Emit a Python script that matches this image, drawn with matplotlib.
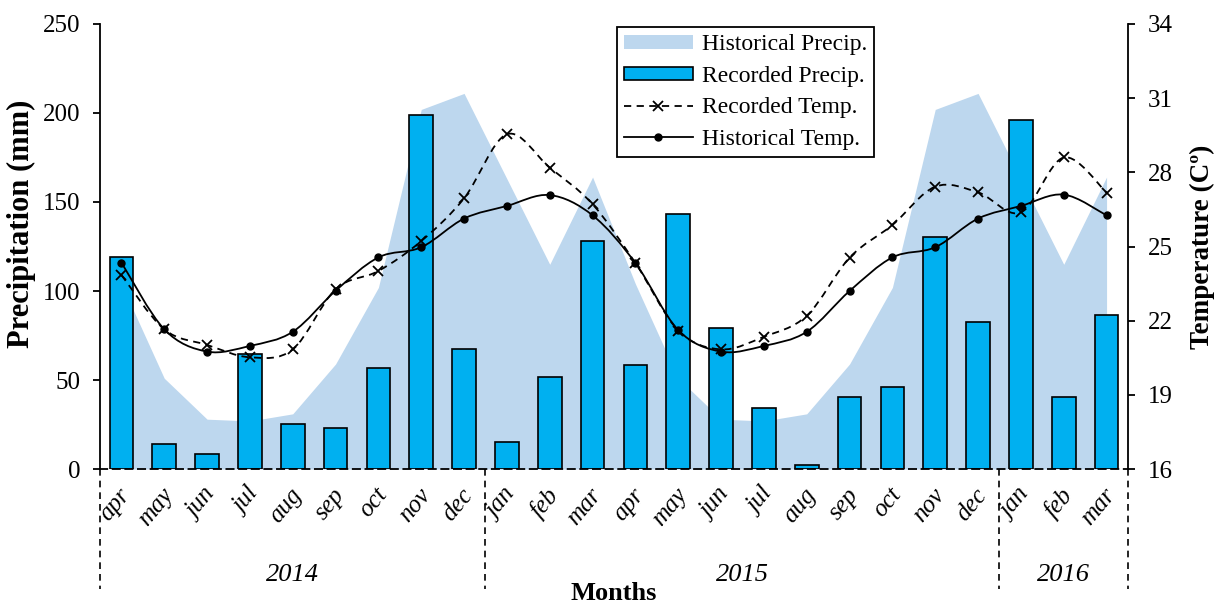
import matplotlib
matplotlib.use('Agg')
import matplotlib.pyplot as plt
import matplotlib.transforms as mtransforms
from matplotlib.path import Path
from matplotlib.patches import PathPatch, Patch
from matplotlib.lines import Line2D
import numpy as np

months = ['apr', 'may', 'jun', 'jul', 'aug', 'sep', 'oct', 'nov', 'dec', 'jan', 'feb', 'mar',
          'apr', 'may', 'jun', 'jul', 'aug', 'sep', 'oct', 'nov', 'dec', 'jan', 'feb', 'mar']
years = ['2014', '2015', '2016']
year_bounds = [-0.5, 8.5, 20.5, 23.5]

hist_precip = [104, 51, 28, 27, 31, 59, 102, 202, 211, 163, 115, 164,
               104, 51, 28, 27, 31, 59, 102, 202, 211, 163, 115, 164]
rec_precip = [119, 14, 8.4, 64.6, 25.3, 23, 56.7, 198.9, 67.4, 15.2, 51.7, 128,
              58.4, 143, 79, 34.3, 2, 40.5, 46, 130.5, 82.5, 196, 40.5, 86.6]
rec_temp = [23.85, 21.65, 21.02, 20.52, 20.84, 23.27, 24.01, 25.22, 26.95, 29.54, 28.19, 26.71,
            24.33, 21.6, 20.84, 21.35, 22.2, 24.55, 25.87, 27.42, 27.19, 26.38, 28.6, 27.18]
hist_temp = [24.35, 21.65, 20.75, 20.98, 21.55, 23.21, 24.56, 24.97, 26.13, 26.64, 27.08, 26.26,
             24.33, 21.62, 20.75, 20.98, 21.55, 23.2, 24.56, 24.97, 26.13, 26.64, 27.1, 26.26]

plt.rcParams['font.family'] = 'Liberation Serif'
plt.rcParams['font.size'] = 18

area_color = '#BDD7EE'
bar_color = '#00B0F0'


def smooth_path(xs, ys):
    # excel style smoothed line: catmull-rom segments as cubic beziers
    pts = np.column_stack([xs, ys]).astype(float)
    ext = np.vstack([pts[0], pts, pts[-1]])
    verts = [pts[0]]
    codes = [Path.MOVETO]
    for i in range(len(pts) - 1):
        p0, p1, p2, p3 = ext[i], ext[i + 1], ext[i + 2], ext[i + 3]
        verts += [p1 + (p2 - p0) / 6, p2 - (p3 - p1) / 6, p2]
        codes += [Path.CURVE4] * 3
    return Path(verts, codes)


fig = plt.figure(figsize=(12.18, 6.07), dpi=100)
ax = fig.add_axes([0.0821, 0.2273, 0.8440, 0.7332])
x = np.arange(len(months))

ax.fill_between(x, hist_precip, 0, color=area_color, lw=0, zorder=1)
ax.bar(x, rec_precip, width=0.55, color=bar_color, edgecolor='black', linewidth=1.2, zorder=2)
ax.set_xlim(-0.5, 23.5)
ax.set_ylim(0, 250)
ax.set_yticks(range(0, 251, 50))
ax.set_xticks(x)
ax.set_xticklabels([])
ax.tick_params(axis='x', length=0)
ax.tick_params(axis='y', direction='out', length=5, width=1.3, pad=9)
ax.spines['top'].set_visible(False)
ax.spines['right'].set_visible(False)
ax.spines['left'].set_linewidth(1.3)
ax.spines['bottom'].set_linewidth(1.3)
ax.spines['bottom'].set_linestyle((0, (4, 3)))
ax.set_ylabel('Precipitation (mm)', fontweight='bold', fontsize=22, va='center', ha='center')
ax.yaxis.set_label_coords(-0.0765, 0.552)

ax2 = ax.twinx()
ax2.set_ylim(16, 34)
ax2.set_yticks(range(16, 35, 3))
ax2.tick_params(axis='y', direction='out', length=5, width=1.3, pad=9)
for s in ['top', 'bottom', 'left']:
    ax2.spines[s].set_visible(False)
ax2.spines['right'].set_linewidth(1.3)
ax2.set_ylabel('Temperature (Cº)', fontweight='bold', fontsize=19.5, rotation=90,
               va='center', ha='center')
ax2.yaxis.set_label_coords(1.0725, 0.5)

ax2.add_patch(PathPatch(smooth_path(x, rec_temp), fill=False, edgecolor='black',
                        linewidth=1.3, linestyle=(0, (4, 3)), zorder=3))
ax2.add_patch(PathPatch(smooth_path(x, hist_temp), fill=False, edgecolor='black',
                        linewidth=1.3, zorder=3))
ax2.plot(x, rec_temp, linestyle='none', marker='x', ms=7, mew=1.3, color='black', zorder=4)
ax2.plot(x, hist_temp, linestyle='none', marker='o', ms=5, color='black', zorder=4)

# month labels, rotated
trans = mtransforms.blended_transform_factory(ax.transData, ax.transAxes)
offs = mtransforms.ScaledTranslation(5 / 100, -22 / 100, fig.dpi_scale_trans)
for i, m in enumerate(months):
    ax.text(i, 0, m, transform=trans + offs, rotation=50, ha='right', va='center',
            rotation_mode='anchor', fontstyle='italic')

# year separators and labels
for b in year_bounds:
    ax.plot([b, b], [0, -0.27], transform=trans, color='black', lw=1.2,
            linestyle=(0, (4, 3)), clip_on=False)
for j, yr in enumerate(years):
    ax.text((year_bounds[j] + year_bounds[j + 1]) / 2, -0.238, yr, transform=trans,
            ha='center', va='center', fontstyle='italic', fontsize=19)

fig.text(0.504, 1 - 594 / 607, 'Months', ha='center', va='center', fontweight='bold',
         fontsize=19)

handles = [
    Patch(facecolor=area_color, edgecolor='none'),
    Patch(facecolor=bar_color, edgecolor='black', linewidth=1.2),
    Line2D([], [], color='black', lw=1.3, linestyle=(0, (4, 3)), marker='x', ms=7, mew=1.3),
    Line2D([], [], color='black', lw=1.3, marker='o', ms=5),
]
labels = ['Historical Precip.', 'Recorded Precip.', 'Recorded Temp.', 'Historical Temp.']
leg = ax2.legend(handles, labels, loc='upper left', bbox_to_anchor=(0.503, 0.993),
                 frameon=True, fancybox=False, framealpha=1, edgecolor='black',
                 fontsize=17, handlelength=2.9, handleheight=0.5, labelspacing=0.45,
                 borderpad=0.3, handletextpad=0.4, borderaxespad=0)
leg.get_frame().set_linewidth(1.3)

fig.savefig('out.png', dpi=100)
